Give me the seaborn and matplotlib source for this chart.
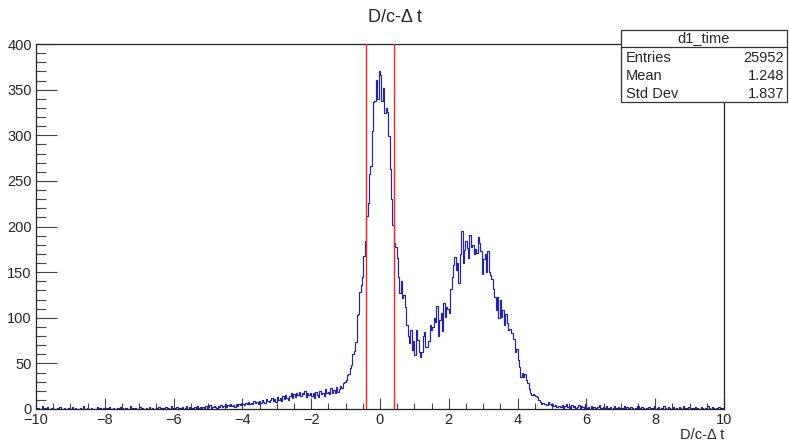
import numpy as np
import pandas as pd
import matplotlib
matplotlib.use("Agg")
import matplotlib.pyplot as plt
from matplotlib.ticker import MultipleLocator
import seaborn as sns

# ---------------- data (bin counts, bin width 0.04 over [-10, 10]) ----------------
left_tail = [
    0,1,0,0,3,0,1,0,2,0, 0,1,0,0,0,1,0,2,0,0, 1,0,0,1,0,0,2,0,1,0, 0,0,1,0,3,0,0,1,0,0, 1,0,0,0,2,0,1,0,0,1,
    0,1,0,2,0,0,1,0,0,1, 0,2,1,0,0,1,0,0,3,0, 1,0,1,0,0,2,0,1,0,0, 1,0,2,0,1,0,0,1,0,2, 0,1,0,1,2,0,1,0,3,1,
    1,0,2,1,0,1,2,0,1,3, 0,2,1,1,0,2,1,3,1,2, 1,2,0,3,1,2,4,1,2,3, 2,1,3,2,4,2,3,5,2,4, 3,5,3,4,2,6,3,5,4,7,
    5,4,7,6,8,5,7,6,9,7, 8,6,9,7,10,8,7,11,9,8, 10,12,9,11,8,13,10,12,9,14, 11,15,12,10,14,18,12,16,13,17, 15,19,14,18,16,20,13,17,15,18,
]
core = [
    14,17,12,19,15,13,20,16,18,14, 22,17,19,16,23,18,21,17,24,19,
    22,25,23,28,30,32,37,38,45,48, 60,64,73,103,104,128,136,145,168,184,
    212,226,257,266,305,336,337,361,340,370, 366,338,352,324,330,326,299,263,230,202,
    182,178,165,145,127,140,122,125,112,92, 80,72,87,65,75,59,87,76,63,57,
    62,80,84,68,68,75,92,87,90,100, 95,113,80,98,105,85,116,101,112,110,
    105,131,145,158,167,152,160,138,170,195, 160,174,184,176,165,191,178,180,170,175,
    171,188,182,173,148,164,170,150,173,150, 147,142,131,123,109,123,100,120,101,109,
    92,104,94,87,88,83,83,77,62,66, 54,46,35,40,35,38,32,28,22,18,
    15,16,15,14,13,10,8,6,7,5, 6,4,8,5,4,6,3,4,2,3,
]
right_tail = [
    3,2,4,1,3,5,2,3,1,4, 2,3,1,2,4,1,3,2,1,5,
    1,2,0,3,1,2,1,0,2,4, 1,0,2,1,3,0,1,2,0,1, 3,1,0,2,1,0,1,3,0,2, 1,0,2,1,0,1,0,3,1,0, 2,1,0,1,0,2,1,0,1,3,
    0,1,2,0,1,0,3,1,0,2, 1,0,1,2,0,1,0,2,1,0, 3,0,1,0,2,1,0,1,0,2, 1,0,0,2,1,0,1,0,3,1, 0,2,1,0,1,0,2,0,1,1,
]
counts = np.array(left_tail + core + right_tail, dtype=float)
x_range = (-10.0, 10.0)
cut_lines = [-0.4, 0.4]
title = "D/c-\u0394 t"
xlabel = "D/c-\u0394 t"
stats_name = "d1_time"
stats_rows = [("Entries", "25952"), ("Mean", "1.248"), ("Std Dev", "1.837")]

edges = np.linspace(x_range[0], x_range[1], len(counts) + 1)
centers = 0.5 * (edges[:-1] + edges[1:])
df = pd.DataFrame({"t": centers, "n": counts})

# ---------------- style ----------------
sns.set_style("ticks")
plt.rcParams["font.family"] = ["Liberation Sans", "DejaVu Sans"]
plt.rcParams["axes.unicode_minus"] = True

W, H = 789, 442
fig = plt.figure(figsize=(W / 100, H / 100), dpi=100)
fig.patch.set_facecolor("white")
ax_l, ax_r, ax_t, ax_b = 36, 724, 44, 409
ax = fig.add_axes([ax_l / W, 1 - ax_b / H, (ax_r - ax_l) / W, (ax_b - ax_t) / H])
ax.set_facecolor("white")

sns.histplot(data=df, x="t", weights="n", bins=edges.tolist(), element="step", fill=False,
             color="#2222aa", linewidth=0.85, ax=ax)

for xc in cut_lines:
    ax.axvline(xc, color="#ff2020", linewidth=1.0, zorder=3)

ax.set_xlim(*x_range)
ax.set_ylim(0, 400)
ax.set_xlabel("")
ax.set_ylabel("")

for s in ax.spines.values():
    s.set_color("#222222")
    s.set_linewidth(0.9)

ax.xaxis.set_major_locator(MultipleLocator(2))
ax.xaxis.set_minor_locator(MultipleLocator(0.5))
ax.yaxis.set_major_locator(MultipleLocator(50))
ax.yaxis.set_minor_locator(MultipleLocator(10))
ax.tick_params(axis="y", which="major", direction="in", length=15, width=0.8,
               color="#444444", labelsize=10.5, pad=3, right=False)
ax.tick_params(axis="y", which="minor", direction="in", length=7.5, width=0.8,
               color="#444444", right=False)
ax.tick_params(axis="x", which="major", direction="in", length=8, width=0.8,
               color="#444444", labelsize=10.5, pad=3, top=False)
ax.tick_params(axis="x", which="minor", direction="in", length=4, width=0.8,
               color="#444444", top=False)

# titles
fig.text(395 / W, 1 - 18 / H, title, ha="center", va="center", fontsize=13)
fig.text(ax_r / W, 1 - 435 / H, xlabel, ha="right", va="center", fontsize=10.5)

# stats box
bx0, bx1, by0, by1, bdiv = 621, 787, 29.5, 102, 46.5
fig.add_artist(plt.Rectangle((bx0 / W, 1 - by1 / H), (bx1 - bx0) / W, (by1 - by0) / H,
                             transform=fig.transFigure, facecolor="white",
                             edgecolor="#333333", linewidth=0.9, zorder=10))
fig.add_artist(plt.Line2D([bx0 / W, bx1 / W], [1 - bdiv / H, 1 - bdiv / H],
                          transform=fig.transFigure, color="#333333", linewidth=0.9, zorder=11))
fig.text((bx0 + bx1) / 2 / W, 1 - 38 / H, stats_name, ha="center", va="center",
         fontsize=10.5, zorder=12)
for i, (k, v) in enumerate(stats_rows):
    yy = 1 - (57.5 + i * 18) / H
    fig.text((bx0 + 5) / W, yy, k, ha="left", va="center", fontsize=10.5, zorder=12)
    fig.text((bx1 - 3) / W, yy, v, ha="right", va="center", fontsize=10.5, zorder=12)

fig.savefig("out.png", dpi=100, facecolor="white")
